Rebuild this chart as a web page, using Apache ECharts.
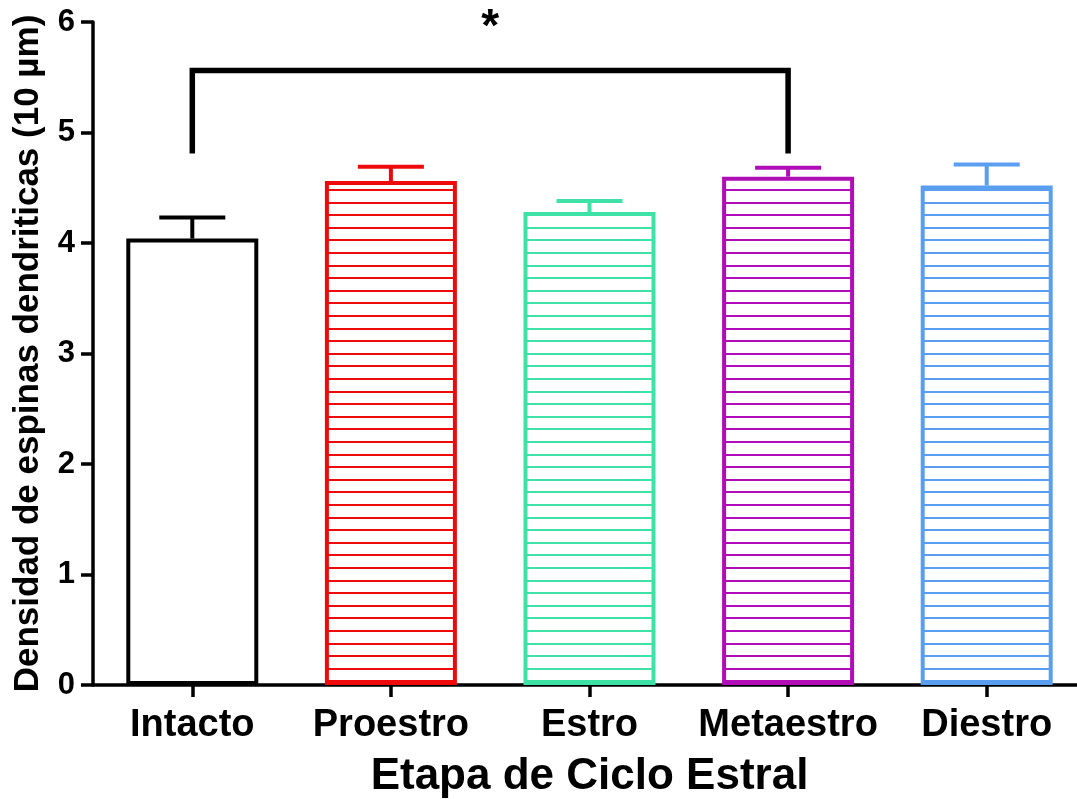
<!DOCTYPE html>
<html>
<head>
<meta charset="utf-8">
<script src="https://cdn.jsdelivr.net/npm/echarts@6/dist/echarts.min.js"></script>
<style>
html,body{margin:0;padding:0;background:#fff;}
#chart{width:1077px;height:799px;}
</style>
</head>
<body>
<div id="chart"></div>
<script>
// data
let categories = ['Intacto', 'Proestro', 'Estro', 'Metaestro', 'Diestro'];
let means = [4.04, 4.56, 4.28, 4.60, 4.52];
let sems = [0.19, 0.13, 0.10, 0.08, 0.19];
let barColors = ['#000000', '#ee0a0a', '#3fe2a6', '#b00cb8', '#5a9ef0'];
let yTicks = [0, 1, 2, 3, 4, 5, 6];
let sigPair = [0, 3];        // Intacto vs Metaestro
let sigBracket = [4.81, 5.56]; // leg bottom, bracket top
let sigMark = '*';

let FONT = '"Liberation Sans", Arial, sans-serif';

// horizontal stripes used as bar fill
let makeStripes = function(color){
    let c = document.createElement('canvas');
    c.width = 4; c.height = 63;
    let ctx = c.getContext('2d');
    ctx.fillStyle = '#fff';
    ctx.fillRect(0, 0, 4, 63);
    ctx.fillStyle = color;
    [0, 12.6, 25.2, 37.8, 50.4].forEach(function(y){
        ctx.fillRect(0, Math.round(y), 4, 2);
    });
    return {image: c, repeat: 'repeat'};
};

let barData = means.map(function(v, i){
    return {
        value: v,
        itemStyle: {
            color: i === 0 ? '#fff' : makeStripes(barColors[i]),
            borderColor: barColors[i]
        }
    };
});

let errData = means.map(function(v, i){ return [i, v, v + sems[i]]; });

let chart = echarts.init(document.getElementById('chart'));
let option = {
    animation: false,
    backgroundColor: '#fff',
    grid: {left: 93, right: -9, top: 22, bottom: 114, containLabel: false, outerBoundsMode: 'none'},
    xAxis: {
        type: 'category',
        data: categories,
        name: 'Etapa de Ciclo Estral',
        nameLocation: 'middle',
        nameGap: 70,
        nameTextStyle: {fontFamily: FONT, fontWeight: 'bold', fontSize: 44, color: '#000'},
        axisLine: {lineStyle: {color: '#000', width: 3.5}},
        axisTick: {show: true, alignWithLabel: true, interval: 0, length: 12, lineStyle: {color: '#000', width: 3.5}},
        axisLabel: {interval: 0, hideOverlap: false, fontFamily: FONT, fontWeight: 'bold', fontSize: 38, color: '#000', margin: 22}
    },
    yAxis: {
        type: 'value',
        min: yTicks[0],
        max: yTicks[yTicks.length - 1],
        interval: 1,
        name: 'Densidad de espinas dendriticas (10 µm)',
        nameLocation: 'middle',
        nameGap: 47,
        nameTextStyle: {fontFamily: FONT, fontWeight: 'bold', fontSize: 35, color: '#000'},
        splitLine: {show: false},
        axisLine: {show: true, lineStyle: {color: '#000', width: 3.5}},
        axisTick: {show: true, length: 12, lineStyle: {color: '#000', width: 3.5}},
        axisLabel: {fontFamily: FONT, fontWeight: 'bold', fontSize: 31, color: '#000', margin: 18}
    },
    series: [
        {
            type: 'bar',
            data: barData,
            barWidth: 132,
            itemStyle: {borderWidth: 4},
            z: 2
        },
        {
            type: 'custom',
            data: errData,
            z: 3,
            renderItem: function(params, api){
                let i = api.value(0);
                let top = api.coord([i, api.value(2)]);
                let base = api.coord([i, api.value(1)]);
                let col = barColors[params.dataIndex];
                return {
                    type: 'group',
                    children: [
                        {type: 'line', shape: {x1: top[0], y1: base[1], x2: top[0], y2: top[1]},
                            style: {stroke: col, lineWidth: 4}},
                        {type: 'line', shape: {x1: top[0] - 33, y1: top[1], x2: top[0] + 33, y2: top[1]},
                            style: {stroke: col, lineWidth: 4}}
                    ]
                };
            }
        },
        {
            type: 'custom',
            data: [[sigPair[0], sigPair[1], sigBracket[0], sigBracket[1]]],
            z: 4,
            renderItem: function(params, api){
                let a0 = api.coord([api.value(0), api.value(2)]);
                let a1 = api.coord([api.value(0), api.value(3)]);
                let b1 = api.coord([api.value(1), api.value(3)]);
                let b0 = api.coord([api.value(1), api.value(2)]);
                return {
                    type: 'group',
                    children: [
                        {type: 'polyline', shape: {points: [a0, a1, b1, b0]},
                            style: {stroke: '#000', lineWidth: 5.5, fill: null, lineJoin: 'miter'}},
                        {type: 'text', x: (a1[0] + b1[0]) / 2, y: a1[1] - 42,
                            style: {text: sigMark, fontFamily: FONT, fontWeight: 'bold', fontSize: 46,
                                fill: '#000', align: 'center', verticalAlign: 'middle'}}
                    ]
                };
            }
        }
    ]
};
chart.setOption(option);
</script>
</body>
</html>
